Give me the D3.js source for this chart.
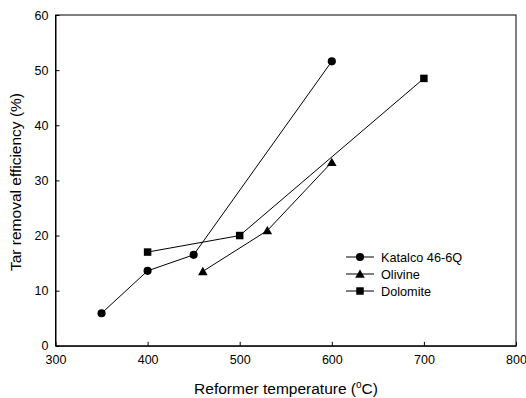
<!DOCTYPE html>
<html><head><meta charset="utf-8">
<script src="https://cdn.jsdelivr.net/npm/d3@7"></script>
<style>body{margin:0;background:#fff}svg{display:block}text{font-family:"Liberation Sans",Arial,sans-serif;fill:#000}</style>
</head><body><svg id="c" width="526" height="398"></svg>
<script>
const seriesNames = ["Katalco 46-6Q", "Olivine", "Dolomite"];
const katalcoX = [350, 400, 450, 600];
const katalcoY = [5.9, 13.6, 16.5, 51.6];
const olivineX = [460, 530, 600];
const olivineY = [13.5, 20.9, 33.3];
const dolomiteX = [400, 500, 700];
const dolomiteY = [17.0, 20.0, 48.5];
const xTicks = [300, 400, 500, 600, 700, 800];
const yTicks = [0, 10, 20, 30, 40, 50, 60];

const svg = d3.select("#c");
const L = 55.5, R = 516, T = 15, B = 345.8;
const x = d3.scaleLinear().domain([300, 800]).range([L, R]);
const y = d3.scaleLinear().domain([0, 60]).range([B, T]);

// frame
svg.append("rect").attr("x", L).attr("y", T).attr("width", R - L).attr("height", B - T)
  .attr("fill", "none").attr("stroke", "#000").attr("stroke-width", 1);

const xa = svg.append("g").attr("transform", `translate(0,${B})`)
  .call(d3.axisBottom(x).tickValues(xTicks).tickSizeInner(-4).tickSizeOuter(0).tickPadding(9));
const ya = svg.append("g").attr("transform", `translate(${L},0)`)
  .call(d3.axisLeft(y).tickValues(yTicks).tickSizeInner(-4).tickSizeOuter(0).tickPadding(7));
[xa, ya].forEach(a => {
  a.select(".domain").attr("stroke", "#000");
  a.selectAll("line").attr("stroke", "#000");
  a.selectAll("text").style("font-size", "12.5px").attr("fill", "#000").style("font-family", "Liberation Sans, Arial, sans-serif");
});

svg.append("text").attr("x", 286).attr("y", 394).attr("text-anchor", "middle").style("font-size", "15.5px")
  .html('Reformer temperature (<tspan dy="-6" style="font-size:10px">o</tspan><tspan dy="6">C)</tspan>');
svg.append("text").attr("transform", "translate(21,182) rotate(-90)").attr("text-anchor", "middle").style("font-size", "15.5px")
  .text("Tar removal efficiency (%)");

const series = [
  {name: seriesNames[0], xs: katalcoX, ys: katalcoY, sym: d3.symbolCircle, size: 52},
  {name: seriesNames[1], xs: olivineX, ys: olivineY, sym: d3.symbolTriangle, size: 40},
  {name: seriesNames[2], xs: dolomiteX, ys: dolomiteY, sym: d3.symbolSquare, size: 56}
];
const line = d3.line().x(d => x(d[0])).y(d => y(d[1]));
series.forEach(s => {
  const pts = s.xs.map((v, i) => [v, s.ys[i]]);
  svg.append("path").attr("d", line(pts)).attr("fill", "none").attr("stroke", "#000").attr("stroke-width", 1);
  svg.selectAll(null).data(pts).enter().append("path")
    .attr("d", d3.symbol().type(s.sym).size(s.size))
    .attr("transform", d => `translate(${x(d[0])},${y(d[1]) + (s.sym === d3.symbolTriangle ? 1 : 0)})`)
    .attr("fill", "#000");
});

// legend
series.forEach((s, i) => {
  const ly = 257 + i * 17;
  svg.append("line").attr("x1", 346).attr("x2", 374).attr("y1", ly).attr("y2", ly).attr("stroke", "#000");
  svg.append("path").attr("d", d3.symbol().type(s.sym).size(s.size))
    .attr("transform", `translate(360,${ly + (s.sym === d3.symbolTriangle ? 1 : 0)})`).attr("fill", "#000");
  svg.append("text").attr("x", 381).attr("y", ly + 4.5).style("font-size", "12.7px").text(s.name);
});
</script></body></html>
